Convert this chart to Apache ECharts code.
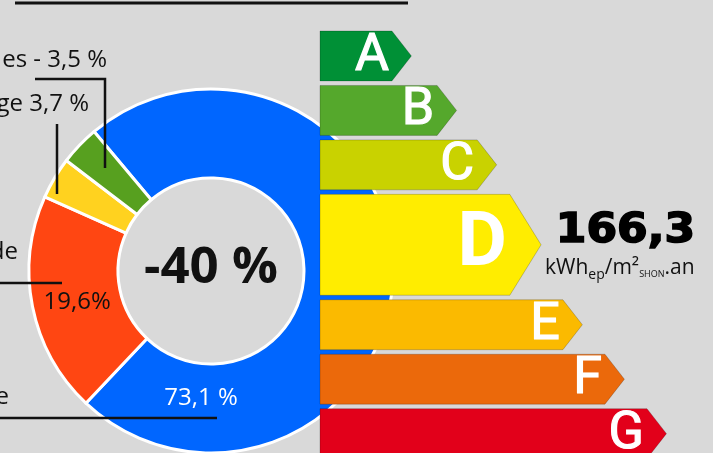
<!DOCTYPE html>
<html>
<head>
<meta charset="utf-8">
<style>
  html, body { margin: 0; padding: 0; background: #d9d9d9; }
  #chart { width: 713px; height: 453px; }
</style>
<script src="https://cdn.jsdelivr.net/npm/echarts@6/dist/echarts.min.js"></script>
</head>
<body>
<div id="chart"></div>
<script>
// share of consumption by usage
const usageNames = ['Chauffage', 'Eau chaude', 'Éclairage', 'Auxiliaires'];
const usageShares = [73.1, 19.6, 3.7, 3.5];
const usageColors = ['#0066ff', '#ff4612', '#ffd21f', '#57a01f'];

// energy label
const energyClasses = ['A', 'B', 'C', 'D', 'E', 'F', 'G'];
const classBarLengths = [18.3, 29.8, 40.0, 48.3, 61.8, 72.5, 83.2];
const classColors = ['#009036', '#55a82c', '#c9d200', '#ffed00', '#fbba00', '#eb690b', '#e2001a'];
const currentClass = 'D';
const consumption = '166,3';
const reduction = '-40 %';

const chart = echarts.init(document.getElementById('chart'));

const ROW_H = 0.917;   // normal bar height, in row units
const RATED_H = 1.853; // the current class gets a taller bar
const GAP = 1 - ROW_H;
const ratedIdx = energyClasses.indexOf(currentClass);

function renderArrow(params, api) {
  const i = api.value(1);
  const len = api.value(0);
  const rated = i === ratedIdx;
  const top = i + (i > ratedIdx ? RATED_H + GAP - 1 : 0);
  const h = rated ? RATED_H : ROW_H;
  const a = api.coord([0, top]);
  const b = api.coord([len, top + h]);
  const x0 = a[0], x1 = b[0], y0 = a[1], y1 = b[1];
  const hp = y1 - y0;
  const tip = hp * (rated ? 0.31 : 0.39);
  const ym = (y0 + y1) / 2;
  return {
    type: 'group',
    children: [
      {
        type: 'polygon',
        shape: { points: [[x0, y0], [x1, y0], [x1 + tip, ym], [x1, y1], [x0, y1]] },
        style: { fill: classColors[i], stroke: 'rgba(0,0,0,0.2)', lineWidth: 1 }
      },
      {
        type: 'text',
        style: {
          text: energyClasses[i],
          x: x1 - 3,
          y: ym + 1,
          align: 'right',
          verticalAlign: 'middle',
          fill: '#fff',
          stroke: rated ? null : '#fff',
          lineWidth: 1.2,
          font: rated ? 'bold 76px Roboto' : 'normal 52px Roboto'
        }
      }
    ]
  };
}

// unit text with subscripts, laid out piece by piece
const ctx = document.createElement('canvas').getContext('2d');
const unitParts = [
  ['kWh', 21, 258], ['ep', 14, 268], ['/m²', 21, 258], ['SHON', 9, 270], ['.an', 21, 258]
];
let ux = 545;
const unitTexts = unitParts.map(([t, size, top]) => {
  const font = size + 'px "Open Sans"';
  ctx.font = font;
  const el = {
    type: 'text', z: 100,
    style: { text: t, x: ux, y: top, font: font, fill: '#111', verticalAlign: 'top' }
  };
  ux += ctx.measureText(t).width;
  return el;
});

function label(text, x, y, align, color, font) {
  return {
    type: 'text', z: 100,
    style: { text: text, x: x, y: y, align: align, verticalAlign: 'middle', fill: color, font: font }
  };
}
const labelFont = '24px "Open Sans"';
const fmt = v => String(v).replace('.', ',');

const option = {
  backgroundColor: '#d9d9d9',
  animation: false,
  grid: { left: 320, right: 0, top: 31, bottom: 0 },
  xAxis: { type: 'value', min: 0, max: 100, show: false },
  yAxis: { type: 'value', min: 0, max: 7.75, inverse: true, show: false },
  series: [
    {
      type: 'pie',
      center: [211, 271],
      radius: [93, 182],
      startAngle: 130,
      clockwise: true,
      silent: true,
      avoidLabelOverlap: false,
      itemStyle: { borderColor: '#fff', borderWidth: 3 },
      label: { show: false },
      labelLine: { show: false },
      data: usageNames.map((name, i) => ({
        name: name,
        value: usageShares[i],
        itemStyle: { color: usageColors[i] },
        label: i === 1 ? {
          show: true,
          position: 'inside',
          formatter: p => fmt(p.value) + '%',
          fontFamily: 'Open Sans',
          fontSize: 24,
          color: '#111',
          textBorderWidth: 0,
          offset: [4, 4]
        } : { show: false }
      }))
    },
    {
      type: 'custom',
      coordinateSystem: 'cartesian2d',
      z: 5,
      silent: true,
      renderItem: renderArrow,
      encode: { x: 0, y: 1 },
      data: energyClasses.map((c, i) => [classBarLengths[i], i])
    }
  ],
  graphic: [
    { type: 'line', z: 100, shape: { x1: 15, y1: 3, x2: 408, y2: 3 }, style: { stroke: '#111', lineWidth: 3 } },
    { type: 'polyline', z: 100, shape: { points: [[35, 79], [105, 79], [105, 168]] }, style: { stroke: '#111', lineWidth: 2.5, fill: null } },
    { type: 'line', z: 100, shape: { x1: 57, y1: 124, x2: 57, y2: 194 }, style: { stroke: '#111', lineWidth: 2.5 } },
    { type: 'line', z: 100, shape: { x1: 0, y1: 283, x2: 62, y2: 283 }, style: { stroke: '#111', lineWidth: 2.5 } },
    { type: 'line', z: 100, shape: { x1: 0, y1: 418, x2: 217, y2: 418 }, style: { stroke: '#111', lineWidth: 2.5 } },
    label('es - ' + fmt(usageShares[3]) + ' %', 107, 60, 'right', '#111', labelFont),
    label('ge ' + fmt(usageShares[2]) + ' %', 89, 104, 'right', '#111', labelFont),
    label('de', 18, 252, 'right', '#111', labelFont),
    label('e', 9, 397, 'right', '#111', labelFont),
    label(fmt(usageShares[0]) + ' %', 201, 398, 'center', '#fff', labelFont),
    label(reduction, 211, 268, 'center', '#111', 'bold 51px "Open Sans"'),
    {
      type: 'text', z: 100, x: 695, y: 212, scaleX: 1.1,
      style: {
        text: consumption, x: 0, y: 0, align: 'right', verticalAlign: 'top',
        fill: '#000', stroke: '#000', lineWidth: 1.6, font: 'bold 40px "DejaVu Sans"'
      }
    }
  ].concat(unitTexts)
};

chart.setOption(option);
</script>
</body>
</html>
